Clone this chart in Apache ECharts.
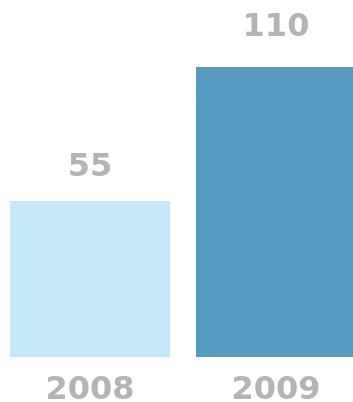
<!DOCTYPE html>
<html>
<head>
<meta charset="utf-8">
<style>
  html, body { margin: 0; padding: 0; background: #ffffff; }
  #chart { width: 353px; height: 402px; }
</style>
<script src="https://cdn.jsdelivr.net/npm/echarts@6/dist/echarts.min.js"></script>
</head>
<body>
<div id="chart"></div>
<script>
const categories = ['2008', '2009'];
const values = [55, 110];
const barColors = ['#c5e8f9', '#579bc0'];
const labelDistances = [17, 23];
const axisMin = -9;
const axisMax = 110;

const chart = echarts.init(document.getElementById('chart'), null, { renderer: 'canvas' });
const textColor = '#b4b4b4';
const font = { fontFamily: 'DejaVu Sans', fontWeight: 'bold', fontSize: 32, color: textColor };

chart.setOption({
  animation: false,
  backgroundColor: '#ffffff',
  grid: { left: -3, width: 372, top: 67, bottom: 45, containLabel: false, outerBoundsMode: 'none' },
  xAxis: {
    type: 'category',
    data: categories,
    axisLine: { show: false },
    axisTick: { show: false },
    splitLine: { show: false },
    axisLabel: Object.assign({ margin: 18, interval: 0 }, font)
  },
  yAxis: {
    type: 'value',
    min: axisMin,
    max: axisMax,
    startValue: axisMin,
    show: false,
    splitLine: { show: false }
  },
  series: [
    {
      type: 'bar',
      barWidth: 160,
      data: values.map((v, i) => ({
        value: v,
        itemStyle: { color: barColors[i] },
        label: { distance: labelDistances[i] }
      })),
      label: Object.assign({ show: true, position: 'top' }, font)
    }
  ]
});
</script>
</body>
</html>
